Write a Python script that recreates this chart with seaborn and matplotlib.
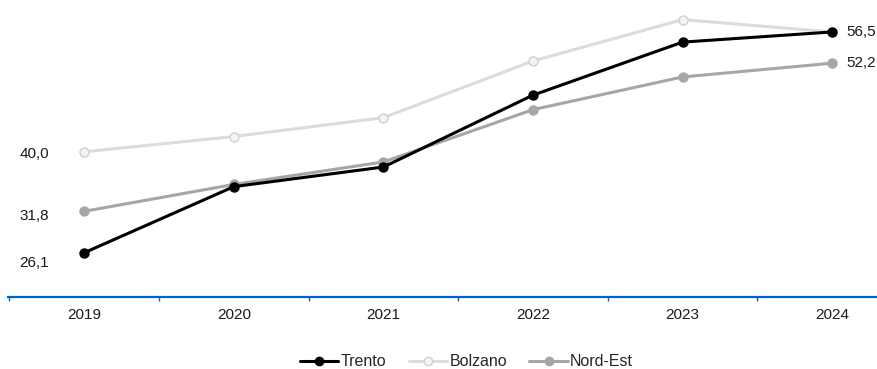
import matplotlib
matplotlib.use("Agg")
import matplotlib.pyplot as plt
import seaborn as sns
import pandas as pd

years = ["2019", "2020", "2021", "2022", "2023", "2024"]
trento = [26.1, 35.2, 37.9, 47.8, 55.1, 56.5]
bolzano = [40.0, 42.1, 44.7, 52.5, 58.2, 56.5]
nordest = [31.8, 35.5, 38.6, 45.8, 50.3, 52.2]
series_names = ["Trento", "Bolzano", "Nord-Est"]

sns.set_theme(style="white")
plt.rcParams['font.family'] = ['Liberation Sans', 'DejaVu Sans']

fig = plt.figure(figsize=(8.77, 3.69), dpi=100)
ax = fig.add_axes([8/877, 72/369, 1 - 8/877, 297/369])

styles = {
    "Trento": dict(color="#000000", mfc="#000000", mec="#000000"),
    "Bolzano": dict(color="#dcdcdc", mfc="#f4f4f4", mec="#d0d0d0"),
    "Nord-Est": dict(color="#a6a6a6", mfc="#a6a6a6", mec="#a6a6a6"),
}
data = {"Trento": trento, "Bolzano": bolzano, "Nord-Est": nordest}
xs = list(range(len(years)))
for name in ["Bolzano", "Nord-Est", "Trento"]:
    df = pd.DataFrame({"x": xs, "y": data[name]})
    st = styles[name]
    sns.lineplot(data=df, x="x", y="y", ax=ax, color=st["color"], lw=2.2,
                 marker="o", markersize=6.5, markerfacecolor=st["mfc"],
                 markeredgecolor=st["mec"], markeredgewidth=1.0, label=name,
                 legend=False)

fs = 11
ax.set_xlim(-0.51, 5.3)
ax.set_ylim(20, 60.9)
ax.set_xlabel("")
ax.set_ylabel("")
ax.set_yticks([])
ax.set_xticks(xs)
ax.set_xticklabels(years, fontsize=fs, color="#1a1a1a")
ax.set_xticks([i - 0.5 for i in range(6)], minor=True)
ax.tick_params(axis="x", which="major", length=0, pad=8)
ax.tick_params(axis="x", which="minor", length=3, width=1, color="#0066cc", direction="out", bottom=True)
for s in ["top", "right", "left"]:
    ax.spines[s].set_visible(False)
ax.spines["bottom"].set_color("#0066cc")
ax.spines["bottom"].set_linewidth(1.6)

# value labels
ax.annotate("40,0", (0, bolzano[0]), xytext=(-35, -2), textcoords="offset pixels",
            ha="right", va="center", fontsize=fs, color="#1a1a1a")
ax.annotate("31,8", (0, nordest[0]), xytext=(-35, -5), textcoords="offset pixels",
            ha="right", va="center", fontsize=fs, color="#1a1a1a")
ax.annotate("26,1", (0, trento[0]), xytext=(-35, -10), textcoords="offset pixels",
            ha="right", va="center", fontsize=fs, color="#1a1a1a")
ax.annotate("56,5", (5, trento[5]), xytext=(14, 0), textcoords="offset pixels",
            ha="left", va="center", fontsize=fs, color="#1a1a1a")
ax.annotate("52,2", (5, nordest[5]), xytext=(14, 0), textcoords="offset pixels",
            ha="left", va="center", fontsize=fs, color="#1a1a1a")

handles = []
for name in series_names:
    st = styles[name]
    h, = ax.plot([], [], color=st["color"], lw=2.2, marker="o", markersize=6,
                 markerfacecolor=st["mfc"], markeredgecolor=st["mec"], label=name)
    handles.append(h)
fig.legend(handles=handles, labels=series_names, loc="center", bbox_to_anchor=(0.532, 1 - 362/369),
           ncol=3, frameon=False, fontsize=11.5, handlelength=2.4, columnspacing=1.4,
           handletextpad=0.15)

fig.savefig("out.png", dpi=100)
